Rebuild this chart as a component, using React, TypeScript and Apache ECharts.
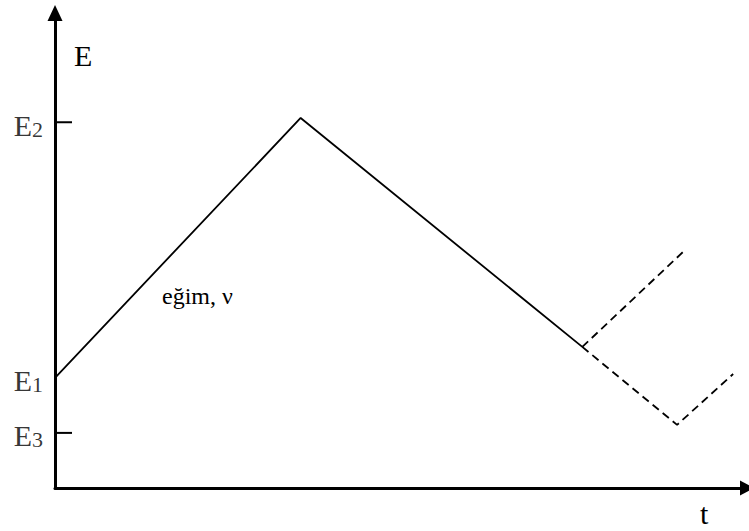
import React, { useEffect, useRef } from "react";
import * as echarts from "echarts";

// Triangular potential sweep (cyclic voltammetry): time vs. potential, arbitrary units.
const sweepTimes = [0, 35.5, 76.2];
const sweepPotentials = [23.2, 77.9, 29.7];

// Dashed continuations after the switching point
const branchUpTimes = [76.2, 90.9];
const branchUpPotentials = [29.7, 49.9];
const branchDownTimes = [76.2, 89.9, 98.0];
const branchDownPotentials = [29.7, 13.3, 24.0];

// Potential levels marked on the E axis
const levelNames = ["E", "E", "E"];
const levelSubscripts = ["2", "1", "3"];
const levelValues = [77.0, 23.2, 11.6];
const levelHasTick = [true, false, true];
const tickLength = 2.46;

const serif = "'Liberation Serif', 'Times New Roman', serif";

const pairs = (xs: number[], ys: number[]) => xs.map((x, i) => [x, ys[i]]);

export default function App() {
  const ref = useRef<HTMLDivElement>(null);

  useEffect(() => {
    if (!ref.current) return;
    const chart = echarts.init(ref.current, undefined, { renderer: "svg" });

    const tickSeries = levelValues
      .map((v, i) => ({ v, i }))
      .filter(({ i }) => levelHasTick[i])
      .map(({ v }) => ({
        type: "line",
        data: [
          [0, v],
          [tickLength, v],
        ],
        symbol: "none",
        lineStyle: { color: "#000", width: 2 },
        silent: true,
      }));

    chart.setOption({
      animation: false,
      backgroundColor: "#fff",
      grid: { left: 55, right: 2, top: 13, bottom: 43 },
      xAxis: {
        type: "value",
        min: 0,
        max: 100,
        splitLine: { show: false },
        axisTick: { show: false },
        axisLabel: { show: false },
        axisLine: {
          show: true,
          onZero: false,
          symbol: ["none", "triangle"],
          symbolSize: [15, 14],
          lineStyle: { color: "#000", width: 3 },
        },
      },
      yAxis: {
        type: "value",
        min: 0,
        max: 100,
        splitLine: { show: false },
        axisTick: { show: false },
        axisLabel: { show: false },
        axisLine: {
          show: true,
          onZero: false,
          symbol: ["none", "triangle"],
          symbolSize: [15, 16],
          lineStyle: { color: "#000", width: 3 },
        },
      },
      series: [
        {
          type: "line",
          data: pairs(sweepTimes, sweepPotentials),
          symbol: "none",
          lineStyle: { color: "#000", width: 1.8 },
        },
        {
          type: "line",
          data: pairs(branchUpTimes, branchUpPotentials),
          symbol: "none",
          lineStyle: { color: "#000", width: 1.8, type: [8, 5] },
        },
        {
          type: "line",
          data: pairs(branchDownTimes, branchDownPotentials),
          symbol: "none",
          lineStyle: { color: "#000", width: 1.8, type: [8, 5] },
        },
        ...tickSeries,
        {
          type: "scatter",
          symbolSize: 0,
          silent: true,
          data: levelValues.map((v, i) => ({
            value: [0, v],
            name: levelNames[i],
          })),
          label: {
            show: true,
            position: "left",
            distance: 12,
            offset: [0, 3],
            formatter: (p: any) =>
              `{e|${levelNames[p.dataIndex]}}{s|${levelSubscripts[p.dataIndex]}}`,
            rich: {
              e: { fontSize: 30, fontFamily: serif, color: "#000" },
              s: {
                fontSize: 22,
                fontFamily: serif,
                color: "#000",
                lineHeight: 14,
                verticalAlign: "bottom",
              },
            },
          },
        },
      ],
      graphic: [
        {
          type: "text",
          left: 74,
          top: 40,
          style: { text: "E", fontSize: 30, fontFamily: serif, fill: "#000" },
        },
        {
          type: "text",
          left: 700,
          top: 498,
          style: { text: "t", fontSize: 30, fontFamily: serif, fill: "#000" },
        },
        {
          type: "text",
          left: 162,
          top: 284,
          style: { text: "eğim, ν", fontSize: 24, fontFamily: serif, fill: "#000" },
        },
      ],
    });

    return () => chart.dispose();
  }, []);

  return (
    <div
      ref={ref}
      style={{ position: "fixed", left: 0, top: 0, width: 749, height: 531 }}
    />
  );
}
